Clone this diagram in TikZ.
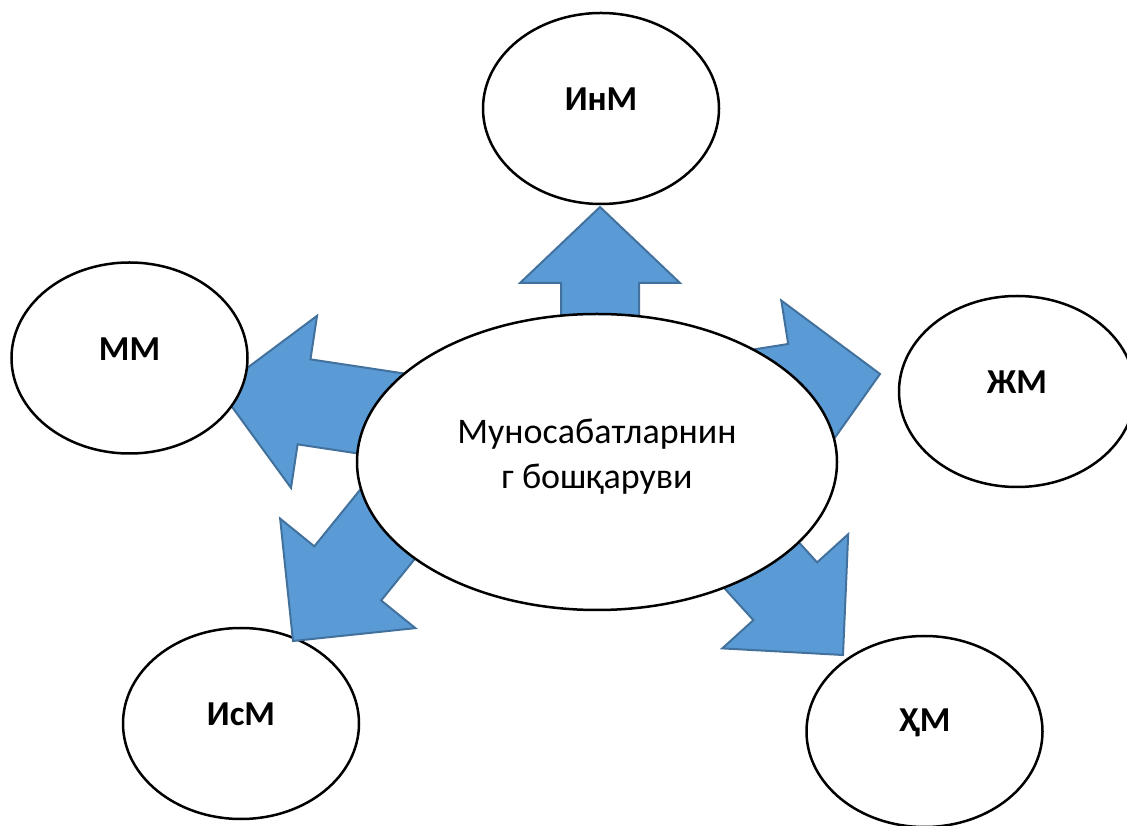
\documentclass[tikz,border=0pt]{standalone}
\usepackage{fontspec}
\setmainfont{Carlito}
\usetikzlibrary{shapes.geometric}
\definecolor{arrfill}{HTML}{5B9BD5}
\definecolor{arrdraw}{HTML}{41719C}
\tikzset{
  arrowstyle/.style={fill=arrfill, draw=arrdraw, line width=2pt, line join=miter},
  smallell/.style={ellipse, draw=black, fill=white, line width=2.5pt, minimum width=236pt, minimum height=191pt, inner sep=0pt},
  bigell/.style={ellipse, draw=black, fill=white, line width=2.5pt, minimum width=480pt, minimum height=296pt, inner sep=0pt},
  lbl/.style={font=\fontsize{35}{42}\selectfont\bfseries, inner sep=0pt},
  maintext/.style={font=\fontsize{36}{45}\selectfont, align=center, inner sep=0pt}
}
% tip, angle, head length, head half width, shaft half width, total length
\newcommand{\blockarr}[6]{%
  \begin{scope}[shift={#1},rotate=#2]
    \draw[arrowstyle] (0,0) -- (-#3,#4) -- (-#3,#5) -- (-#6,#5) -- (-#6,-#5) -- (-#3,-#5) -- (-#3,-#4) -- cycle;
  \end{scope}}
\begin{document}
\begin{tikzpicture}[x=1pt,y=1pt]
\useasboundingbox (0,0) rectangle (1127,825);
\clip (0,0) rectangle (1127,825);
% outer ellipses (under the arrows)
\node[smallell] (inm) at (601,716.5) {};
\node[smallell] (zhm) at (1017,433.5) {};
\node[smallell] (ism) at (241,101.5) {};
\node[smallell] (hm) at (924.5,93.5) {};
% block arrows
\coordinate (tipInM) at (600,618);
\coordinate (tipZhM) at (880,451);
\coordinate (tipMM) at (219,436);
\coordinate (tipIsM) at (293,184);
\coordinate (tipHM) at (843,170);
\blockarr{(tipInM)}{90}{76}{80}{39}{250}
\blockarr{(tipZhM)}{9}{86}{88}{44}{290}
\blockarr{(tipMM)}{171.4}{86}{87}{43}{370}
\blockarr{(tipIsM)}{231}{87}{87}{43}{300}
\blockarr{(tipHM)}{-47.8}{86}{85}{43}{280}
% central ellipse
\node[bigell] (c) at (597,363) {};
\node[maintext] (ctext) at ([yshift=5pt]c.center) {Муносабатларнин\\г бошқаруви};
% left ellipse (over its arrow)
\node[smallell] (mm) at (129.5,467) {};
% labels
\node[lbl] (linm) at ([yshift=9pt]inm.center) {ИнМ};
\node[lbl] (lzhm) at ([yshift=9pt]zhm.center) {ЖМ};
\node[lbl] (lism) at ([yshift=9pt]ism.center) {ИсМ};
\node[lbl] (lhm) at ([yshift=9pt]hm.center) {ҲМ};
\node[lbl] (lmm) at ([yshift=9pt]mm.center) {ММ};
\end{tikzpicture}
\end{document}
